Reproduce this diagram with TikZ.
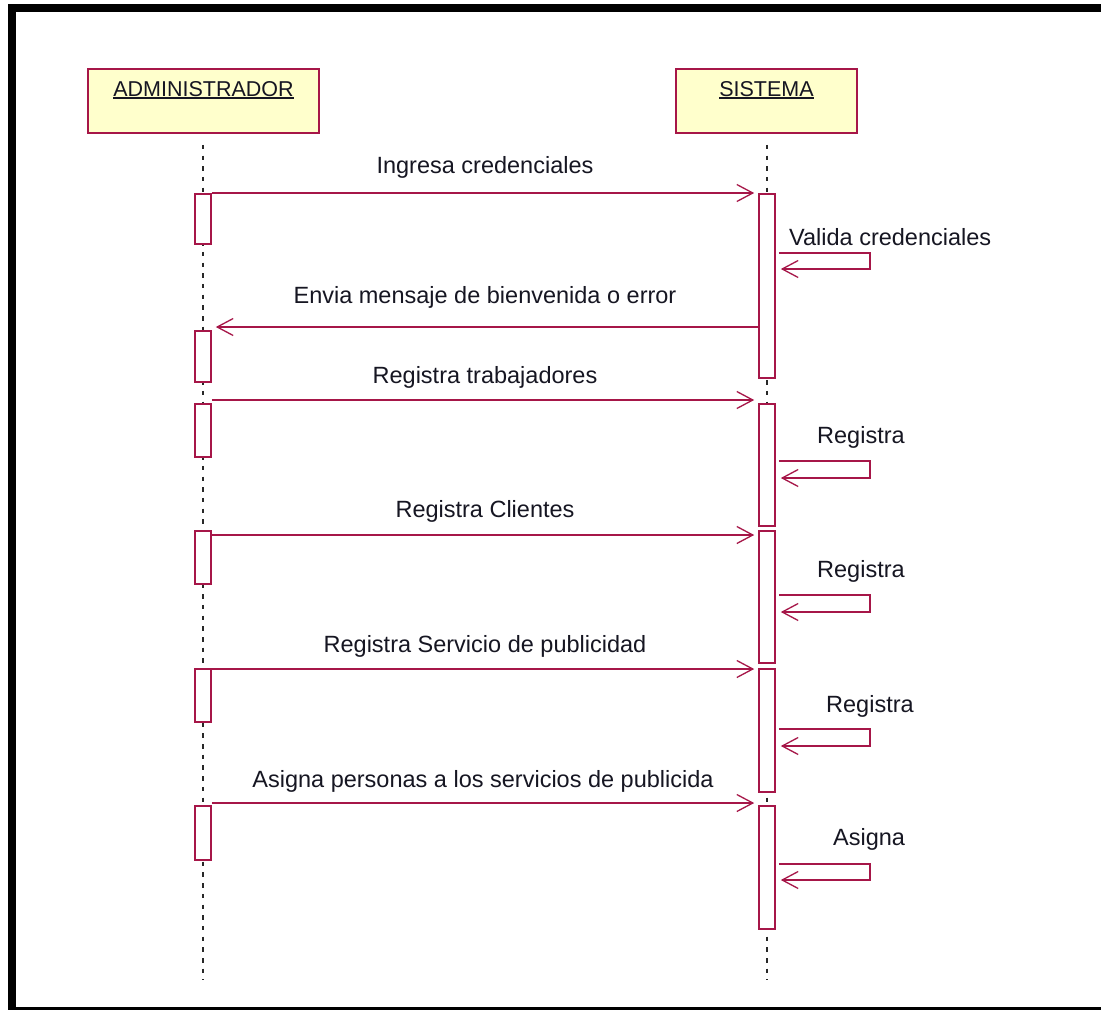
\documentclass[tikz,border=0pt]{standalone}
\usepackage{fontspec}
\setmainfont{Liberation Sans}
\usetikzlibrary{arrows.meta}
\definecolor{umlred}{RGB}{166,22,72}
\definecolor{umlfill}{RGB}{255,255,204}
\definecolor{umltext}{RGB}{22,22,34}
\definecolor{lifegray}{RGB}{40,40,40}
% underline drawn as a rule just below the baseline
\newcommand\umlul[1]{\leavevmode\setbox0=\hbox{#1}\rlap{\rule[-3pt]{\wd0}{1.7pt}}\box0}
\begin{document}
\begin{tikzpicture}[x=1pt,y=-1pt,
  head/.style={draw=umlred, fill=umlfill, line width=1.6pt, minimum height=64pt, inner sep=0pt},
  headtext/.style={anchor=base, inner sep=0pt, text=umltext, font=\fontsize{21.5pt}{24pt}\selectfont},
  act/.style={draw=umlred, fill=white, line width=1.6pt, minimum width=16pt, inner sep=0pt, anchor=north},
  msg/.style={draw=umlred, line width=1.5pt, shorten >=4pt, -{Straight Barb[length=16pt,width=17pt,line width=1.3pt]}},
  selfmsg/.style={msg, shorten <=3pt, shorten >=5pt},
  lbl/.style={inner sep=0pt, text=umltext, font=\fontsize{23.5pt}{26pt}\selectfont},
  lifeline/.style={draw=lifegray, line width=1.8pt, dash pattern=on 4.5pt off 6.2pt}]
\useasboundingbox (0,0) rectangle (1101,1010);
\fill[white] (0,0) rectangle (1101,1010);

% frame
\fill[black] (8,4) rectangle (16,1010);
\fill[black] (8,4) rectangle (1101,12);
\fill[black] (8,1007) rectangle (1101,1010);

% participants
\node[head, minimum width=231pt] (adm) at (203.5,101) {};
\node[head, minimum width=181pt] (sis) at (766.5,101) {};
\node[headtext] (admt) at (203.5,96) {\umlul{ADMINISTRADOR}};
\node[headtext] (sist) at (766.5,96) {\umlul{SISTEMA}};

% lifelines
\coordinate (endA) at (203,980);
\coordinate (endS) at (767,980);
\draw[lifeline, shorten <=11pt] (adm.south -| endA) -- (endA);
\draw[lifeline, shorten <=11pt] (sis.south -| endS) -- (endS);

% activation bars of ADMINISTRADOR
\node[act, minimum height=50pt] (a1) at (203,193) {};
\node[act, minimum height=51pt] (a2) at (203,330) {};
\node[act, minimum height=53pt] (a3) at (203,403) {};
\node[act, minimum height=53pt] (a4) at (203,530) {};
\node[act, minimum height=53pt] (a5) at (203,668) {};
\node[act, minimum height=54pt] (a6) at (203,805) {};

% activation bars of SISTEMA
\node[act, minimum height=184pt] (s1) at (767,193) {};
\node[act, minimum height=122pt] (s2) at (767,403) {};
\node[act, minimum height=132pt] (s3) at (767,530) {};
\node[act, minimum height=123pt] (s4) at (767,668) {};
\node[act, minimum height=123pt] (s5) at (767,805) {};

% message levels
\coordinate (m1) at (485,193);
\coordinate (m2) at (485,327);
\coordinate (m3) at (485,400);
\coordinate (m4) at (485,535);
\coordinate (m5) at (485,669);
\coordinate (m6) at (485,803);

% messages between the lifelines
\draw[msg] (a1.east |- m1) -- (s1.west |- m1);
\draw[msg] (s1.west |- m2) -- (a2.east |- m2);
\draw[msg] (a3.east |- m3) -- (s2.west |- m3);
\draw[msg] (a4.east |- m4) -- (s3.west |- m4);
\draw[msg] (a5.east |- m5) -- (s4.west |- m5);
\draw[msg] (a6.east |- m6) -- (s5.west |- m6);

\node[lbl, anchor=base] (l1) at (485,173) {Ingresa credenciales};
\node[lbl, anchor=base] (l2) at (485,303) {Envia mensaje de bienvenida o error};
\node[lbl, anchor=base] (l3) at (485,383) {Registra trabajadores};
\node[lbl, anchor=base] (l4) at (485,517) {Registra Clientes};
\node[lbl, anchor=base] (l5) at (485,652) {Registra Servicio de publicidad};
\node[lbl, anchor=base] (l6) at (483,787) {Asigna personas a los servicios de publicida};

% self messages on SISTEMA
\coordinate (v1a) at (870,253); \coordinate (v1b) at (870,269);
\coordinate (v2a) at (870,461); \coordinate (v2b) at (870,478);
\coordinate (v3a) at (870,595); \coordinate (v3b) at (870,612);
\coordinate (v4a) at (870,729); \coordinate (v4b) at (870,746);
\coordinate (v5a) at (870,864); \coordinate (v5b) at (870,880);
\draw[selfmsg] (s1.east |- v1a) -- (v1a) -- (v1b) -- (s1.east |- v1b);
\draw[selfmsg] (s2.east |- v2a) -- (v2a) -- (v2b) -- (s2.east |- v2b);
\draw[selfmsg] (s3.east |- v3a) -- (v3a) -- (v3b) -- (s3.east |- v3b);
\draw[selfmsg] (s4.east |- v4a) -- (v4a) -- (v4b) -- (s4.east |- v4b);
\draw[selfmsg] (s5.east |- v5a) -- (v5a) -- (v5b) -- (s5.east |- v5b);

\node[lbl, anchor=base west] (r1) at (789,245) {Valida credenciales};
\node[lbl, anchor=base west] (r2) at (817,443) {Registra};
\node[lbl, anchor=base west] (r3) at (817,577) {Registra};
\node[lbl, anchor=base west] (r4) at (826,712) {Registra};
\node[lbl, anchor=base west] (r5) at (833,845) {Asigna};
\end{tikzpicture}
\end{document}
